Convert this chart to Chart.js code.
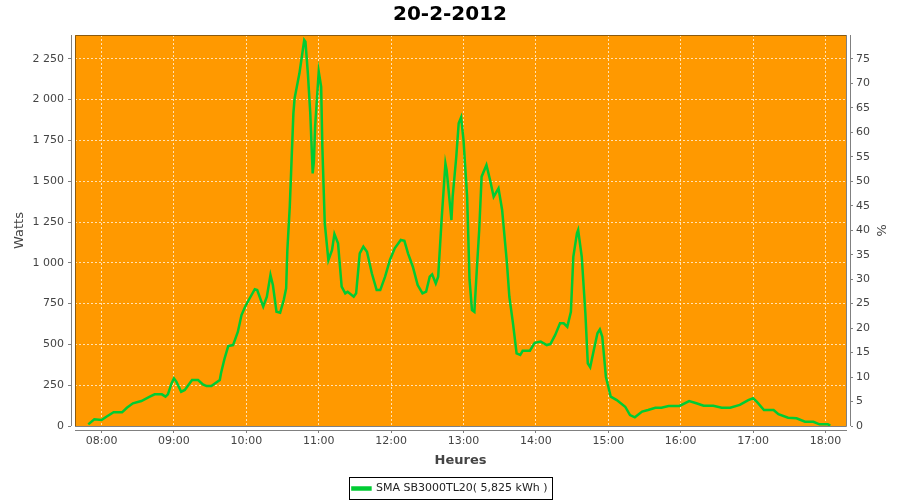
<!DOCTYPE html>
<html>
<head>
<meta charset="utf-8">
<title>20-2-2012</title>
<script src="https://cdn.jsdelivr.net/npm/chart.js@4.4.1/dist/chart.umd.min.js"></script>
<style>
  body { margin: 0; background: #fff; }
  #chart { display: block; }
</style>
</head>
<body>
<canvas id="chart" width="900" height="500"></canvas>
<script>
// Time of each sample, minutes after midnight
const minutes = [
  469, 474, 480, 484, 490, 497, 501, 506, 513, 520, 524, 530, 533, 535, 538, 540,
  542, 546, 549, 555, 560, 564, 567, 571, 578, 579, 582, 585, 589, 593, 596, 599,
  602, 607, 609, 614, 617, 620, 622, 625, 628, 631, 633, 634, 636, 639, 640, 644,
  646, 648, 649, 651, 653, 655, 656, 657, 660, 662, 663, 665, 668, 671, 673, 676,
  679, 682, 684, 689, 691, 694, 697, 700, 704, 708, 711, 715, 719, 723, 728, 731,
  734, 738, 742, 746, 749, 752, 754, 757, 759, 762, 765, 766, 770, 771, 774, 776,
  778, 780, 783, 785, 787, 789, 791, 793, 795, 799, 802, 805, 809, 812, 816, 818,
  821, 824, 827, 829, 835, 839, 844, 849, 852, 856, 860, 863, 866, 869, 871, 874,
  875, 878, 881, 883, 885, 888, 891, 893, 895, 898, 902, 907, 914, 918, 922, 928,
  933, 939, 944, 950, 959, 967, 973, 979, 987, 994, 1001, 1009, 1016, 1020, 1023, 1029,
  1037, 1041, 1049, 1056, 1063, 1070, 1075, 1082, 1084
];

// Output power, W
const watts = [
  10, 41, 37, 57, 84, 84, 112, 139, 153, 180, 194, 194, 180, 194, 261, 292,
  272, 210, 221, 282, 282, 255, 245, 245, 282, 323, 415, 490, 496, 578, 680, 731,
  772, 838, 833, 731, 792, 925, 864, 700, 694, 772, 844, 1078, 1344, 1916, 2008, 2161,
  2263, 2365, 2355, 2161, 1916, 1548, 1620, 1834, 2171, 2079, 1711, 1242, 1017, 1078, 1176, 1119,
  854, 813, 823, 792, 813, 1058, 1099, 1068, 936, 833, 833, 915, 1017, 1089, 1140, 1135,
  1058, 976, 864, 813, 823, 915, 929, 874, 915, 1282, 1609, 1569, 1262, 1405, 1650, 1855,
  1891, 1752, 1405, 895, 711, 700, 956, 1201, 1528, 1599, 1507, 1405, 1456, 1324, 997, 792,
  629, 445, 435, 461, 461, 510, 517, 496, 502, 558, 629, 629, 608, 700, 1037, 1181,
  1201, 1037, 690, 384, 360, 466, 568, 592, 547, 302, 180, 159, 118, 67, 53, 88,
  98, 112, 112, 123, 123, 153, 139, 124, 124, 112, 112, 129, 159, 170, 149, 98,
  98, 72, 51, 47, 26, 26, 10, 10, 2
];

const hourTicks = [480, 540, 600, 660, 720, 780, 840, 900, 960, 1020, 1080];
const hourLabels = ['08:00', '09:00', '10:00', '11:00', '12:00', '13:00',
                    '14:00', '15:00', '16:00', '17:00', '18:00'];

const xMin = 458, xMax = 1097;
const wattsMax = 2396;
const pctMax = 79.87;   // right axis: 30 W per %

const seriesLabel = 'SMA SB3000TL20( 5,825 kWh )';

function frNumber(v) {
  if (v < 1000) return String(v);
  return Math.floor(v / 1000) + ' ' + String(v % 1000).padStart(3, '0');
}

const tickGrey = '#444444';
const axisGrey = '#808080';
const gridColor = 'rgba(255,255,255,0.7)';

// orange plot background, offset axis lines, outline, legend frame
const plotDeco = {
  id: 'plotDeco',
  beforeDraw(chart) {
    const { ctx, chartArea: a } = chart;
    ctx.save();
    ctx.fillStyle = '#ff9900';
    ctx.fillRect(a.left, a.top, a.right - a.left, a.bottom - a.top);
    ctx.restore();
  },
  afterDraw(chart) {
    const { ctx, chartArea: a } = chart;
    ctx.save();
    ctx.lineWidth = 1;
    // plot outline
    ctx.strokeStyle = '#8a5a10';
    ctx.beginPath();
    ctx.moveTo(a.left + 0.5, a.bottom);
    ctx.lineTo(a.left + 0.5, a.top + 0.5);
    ctx.lineTo(a.right, a.top + 0.5);
    ctx.stroke();
    ctx.strokeStyle = axisGrey;
    ctx.beginPath();
    ctx.moveTo(a.right + 0.5, a.top);
    ctx.lineTo(a.right + 0.5, a.bottom + 0.5);
    ctx.lineTo(a.left, a.bottom + 0.5);
    ctx.stroke();
    // axis lines, 4px away from the plot
    ctx.beginPath();
    ctx.moveTo(a.left - 3.5, a.top);
    ctx.lineTo(a.left - 3.5, a.bottom);
    ctx.moveTo(a.left, a.bottom + 4.5);
    ctx.lineTo(a.right + 1, a.bottom + 4.5);
    ctx.moveTo(a.right + 4.5, a.top);
    ctx.lineTo(a.right + 4.5, a.bottom);
    ctx.stroke();
    // legend frame
    const hb = chart.legend.legendHitBoxes[0];
    if (hb) {
      ctx.strokeStyle = '#000';
      ctx.strokeRect(Math.round(hb.left) - 2.5, Math.round(hb.top) - 5.5,
                     Math.round(hb.width) + 8, Math.round(hb.height) + 11);
    }
    ctx.restore();
  }
};

Chart.defaults.font.family = 'DejaVu Sans';
Chart.defaults.color = tickGrey;

new Chart(document.getElementById('chart'), {
  type: 'line',
  data: {
    datasets: [{
      label: seriesLabel,
      data: minutes.map((m, i) => ({ x: m, y: watts[i] })),
      borderColor: '#00cc33',
      backgroundColor: '#00cc33',
      borderWidth: 2.5,
      pointRadius: 0,
      tension: 0,
      yAxisID: 'y'
    }]
  },
  options: {
    responsive: false,
    animation: false,
    layout: { padding: { top: 0, left: 0, right: 0, bottom: -4 } },
    plugins: {
      title: {
        display: true,
        text: '20-2-2012',
        color: '#000',
        font: { size: 20, weight: 'bold' },
        padding: { top: 3, bottom: 8 }
      },
      legend: {
        position: 'bottom',
        labels: {
          color: '#222',
          font: { size: 11 },
          boxWidth: 18,
          boxHeight: 2,
          padding: 1
        }
      },
      tooltip: { enabled: false }
    },
    scales: {
      x: {
        type: 'linear',
        min: xMin,
        max: xMax,
        afterBuildTicks: s => { s.ticks = hourTicks.map(v => ({ value: v })); },
        afterFit: s => { s.height = 78 - s.chart.legend.height; },
        ticks: {
          font: { size: 11 },
          color: tickGrey,
          padding: 2,
          maxRotation: 0,
          autoSkip: false,
          callback: v => hourLabels[hourTicks.indexOf(v)]
        },
        grid: {
          color: gridColor,
          lineWidth: 1,
          tickLength: 7,
          tickColor: axisGrey,
          tickBorderDash: [0, 5, 2, 20]
        },
        border: { display: false, dash: [2, 2] },
        title: {
          display: true,
          text: 'Heures',
          color: tickGrey,
          font: { size: 13, weight: 'bold' },
          padding: { top: 0, bottom: 14 }
        }
      },
      y: {
        position: 'left',
        min: 0,
        max: wattsMax,
        afterFit: s => { s.width = 75; },
        ticks: {
          stepSize: 250,
          includeBounds: false,
          font: { size: 11 },
          color: tickGrey,
          padding: 4,
          callback: v => frNumber(v)
        },
        grid: {
          color: gridColor,
          lineWidth: 1,
          tickLength: 7,
          tickColor: axisGrey,
          tickBorderDash: [3, 20]
        },
        border: { display: false, dash: [2, 2] },
        title: {
          display: true,
          text: 'Watts',
          color: tickGrey,
          font: { size: 13 },
          padding: { top: 12, bottom: 0 }
        }
      },
      y1: {
        position: 'right',
        min: 0,
        max: pctMax,
        afterFit: s => { s.width = 54; },
        ticks: {
          stepSize: 5,
          includeBounds: false,
          font: { size: 11 },
          color: tickGrey,
          padding: 3
        },
        grid: {
          drawOnChartArea: false,
          tickLength: 7,
          tickColor: axisGrey,
          tickBorderDash: [0, 5, 2, 20]
        },
        border: { display: false },
        title: {
          display: true,
          text: '%',
          color: tickGrey,
          font: { size: 13 },
          padding: { top: 12, bottom: 0 }
        }
      }
    }
  },
  plugins: [plotDeco]
});
</script>
</body>
</html>
